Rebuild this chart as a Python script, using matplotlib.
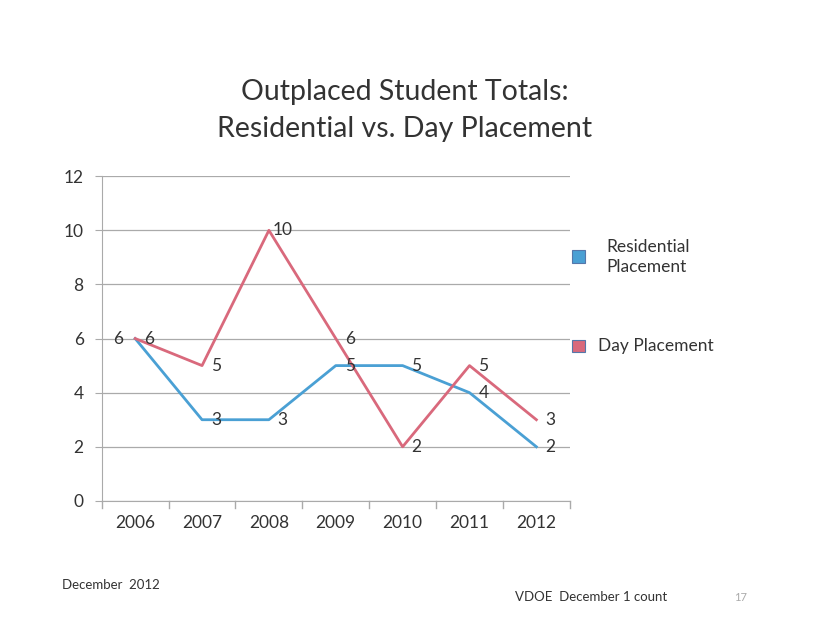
import matplotlib
matplotlib.use("Agg")
import matplotlib.pyplot as plt
from matplotlib.patches import Rectangle

years = ["2006", "2007", "2008", "2009", "2010", "2011", "2012"]
residential = [6, 3, 3, 5, 5, 4, 2]
day = [6, 5, 10, 6, 2, 5, 3]
yticks = [0, 2, 4, 6, 8, 10, 12]

blue = "#4aa0d4"
red = "#d9697c"
txt = "#333333"
plt.rcParams['font.family'] = ['Lato', 'DejaVu Sans']

fig = plt.figure(figsize=(8.14, 6.43), dpi=100)
ax = fig.add_axes([0.125, 0.221, 0.575, 0.505])
x = list(range(len(years)))
ax.plot(x, residential, color=blue, lw=2)
ax.plot(x, day, color=red, lw=2)
ax.set_xlim(-0.5, 6.5)
ax.set_ylim(0, 12)
ax.set_yticks(yticks)
ax.set_yticklabels([str(v) for v in yticks], fontsize=12.5, color=txt)
ax.set_xticks(x)
ax.set_xticklabels(years, fontsize=12.5, color=txt)
ax.tick_params(axis='x', length=0, pad=10)
ax.tick_params(axis='y', length=5, color='#aaaaaa', pad=8)
for b in [i - 0.5 for i in range(8)]:
    ax.plot([b, b], [0, -0.25], color='#aaaaaa', lw=1, clip_on=False)
ax.grid(axis='y', color='#aaaaaa', lw=0.9)
ax.set_axisbelow(True)
for s in ['top', 'right']:
    ax.spines[s].set_visible(False)
ax.spines['left'].set_color('#aaaaaa')
ax.spines['bottom'].set_color('#aaaaaa')

for i, (r, d) in enumerate(zip(residential, day)):
    if i == 0:
        ax.annotate(str(r), (i, r), xytext=(-12, 0), textcoords='offset points',
                    ha='center', va='center', fontsize=12.5, color=txt)
    else:
        ax.annotate(str(r), (i, r), xytext=(10, 0), textcoords='offset points',
                    ha='center', va='center', fontsize=12.5, color=txt)
    ax.annotate(str(d), (i, d), xytext=(10, 0), textcoords='offset points',
                ha='center', va='center', fontsize=12.5, color=txt)

fig.text(0.497, 0.857, "Outplaced Student Totals:", ha='center', va='center', fontsize=20.5, color=txt)
fig.text(0.497, 0.799, "Residential vs. Day Placement", ha='center', va='center', fontsize=20.5, color=txt)

fig.patches.append(Rectangle((0.703, 0.591), 0.016, 0.02, transform=fig.transFigure,
                             facecolor=blue, edgecolor='#5577aa', lw=0.8))
fig.text(0.745, 0.601, "Residential\nPlacement", ha='left', va='center', fontsize=12.5,
         color=txt, linespacing=1.3)
fig.patches.append(Rectangle((0.703, 0.452), 0.016, 0.02, transform=fig.transFigure,
                             facecolor=red, edgecolor='#5577aa', lw=0.8))
fig.text(0.735, 0.462, "Day Placement", ha='left', va='center', fontsize=12.5, color=txt)

fig.text(0.076, 0.09, "December  2012", ha='left', va='center', fontsize=9.5, color=txt)
fig.text(0.633, 0.071, "VDOE  December 1 count", ha='left', va='center', fontsize=9.5, color=txt)
fig.text(0.91, 0.071, "17", ha='center', va='center', fontsize=8, color='#aaaaaa')

fig.savefig("out.png", dpi=100, facecolor='white')
